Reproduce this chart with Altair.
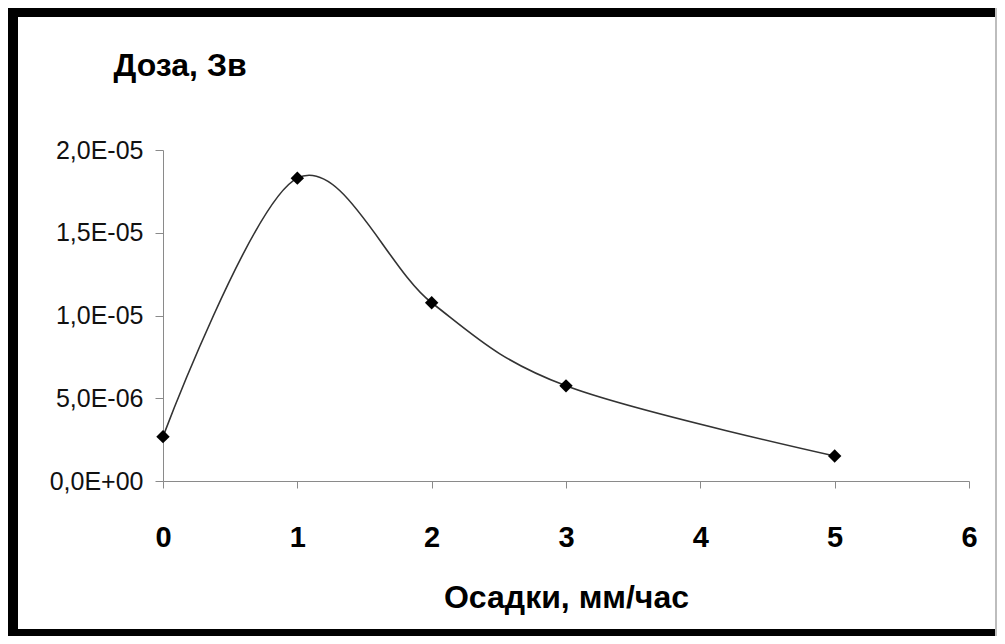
import altair as alt
import pandas as pd

# Data
rain = [0, 1, 2, 3, 5]  # Осадки, мм/час
dose = [2.68e-6, 1.83e-5, 1.077e-5, 5.75e-6, 1.51e-6]  # Доза, Зв

x_ticks = [0, 1, 2, 3, 4, 5, 6]
y_ticks = [0, 5e-6, 1e-5, 1.5e-5, 2e-5]
y_tick_labels = ["0,0E+00", "5,0E-06", "1,0E-05", "1,5E-05", "2,0E-05"]

df = pd.DataFrame({"rain": rain, "dose": dose})

label_arr = "[" + ",".join("'" + s + "'" for s in y_tick_labels) + "]"
y_label_expr = label_arr + "[round(datum.value / 5e-6)]"

FONT = "Liberation Sans, Arial, sans-serif"

W, H = 806, 331
PAD_L, PAD_T, PAD_R, PAD_B = 155, 142, 28, 155

x_enc = alt.X(
    "rain:Q",
    scale=alt.Scale(domain=[0, 6], nice=False, zero=True),
    axis=alt.Axis(
        values=x_ticks,
        format="d",
        grid=False,
        domainColor="#8a8a8a",
        tickColor="#8a8a8a",
        tickSize=7,
        labelFont=FONT,
        labelFontSize=29,
        labelFontWeight="bold",
        labelColor="#000000",
        labelPadding=35,
        labelFlush=False,
        labelOverlap=False,
        title="Осадки, мм/час",
        titleFont=FONT,
        titleFontSize=32,
        titleFontWeight="bold",
        titleColor="#000000",
        titleBaseline="alphabetic",
        titleY=126,
    ),
)
y_enc = alt.Y(
    "dose:Q",
    scale=alt.Scale(domain=[0, 2e-5], nice=False),
    axis=alt.Axis(
        values=y_ticks,
        labelExpr=y_label_expr,
        grid=False,
        domainColor="#8a8a8a",
        tickColor="#8a8a8a",
        tickSize=8,
        labelFont=FONT,
        labelFontSize=25,
        labelColor="#111111",
        labelPadding=12,
        labelFlush=False,
        labelOverlap=False,
        title="Доза, Зв",
        titleFont=FONT,
        titleFontSize=32,
        titleFontWeight="bold",
        titleColor="#000000",
        titleAngle=0,
        titleAlign="left",
        titleBaseline="alphabetic",
        titleX=-50,
        titleY=-75,
    ),
)

line = alt.Chart(df).mark_line(
    interpolate="cardinal", color="#333333", strokeWidth=1.6
).encode(x=x_enc, y=y_enc)

points = alt.Chart(df).mark_point(
    shape="diamond", filled=True, color="#000000", size=180, opacity=1
).encode(x="rain:Q", y="dose:Q")

# Decorative outer frame (thick black left/top/bottom, thin grey right)
frame_data = alt.Data(values=[{"k": 1}])
svg_w = PAD_L + W + PAD_R
svg_h = PAD_T + H + PAD_B
left_band = alt.Chart(frame_data).mark_rect(color="#000000").encode(
    x=alt.value(-PAD_L), x2=alt.value(-PAD_L + 10),
    y=alt.value(-PAD_T), y2=alt.value(svg_h - PAD_T),
)
top_band = alt.Chart(frame_data).mark_rect(color="#000000").encode(
    x=alt.value(-PAD_L), x2=alt.value(svg_w - PAD_L),
    y=alt.value(-PAD_T), y2=alt.value(-PAD_T + 9),
)
bottom_band = alt.Chart(frame_data).mark_rect(color="#000000").encode(
    x=alt.value(-PAD_L), x2=alt.value(svg_w - PAD_L),
    y=alt.value(svg_h - PAD_T - 7), y2=alt.value(svg_h - PAD_T),
)
right_line = alt.Chart(frame_data).mark_rect(color="#bdbdbd").encode(
    x=alt.value(svg_w - PAD_L - 2), x2=alt.value(svg_w - PAD_L),
    y=alt.value(-PAD_T), y2=alt.value(svg_h - PAD_T),
)

chart = alt.layer(
    left_band, top_band, bottom_band, right_line, line, points
).properties(
    width=W,
    height=H,
    autosize=alt.AutoSizeParams(type="none"),
    padding={"left": PAD_L, "top": PAD_T, "right": PAD_R, "bottom": PAD_B},
    background="#ffffff",
).configure_view(stroke=None)

chart.save("out.html", embed_options={"renderer": "svg", "actions": False})
